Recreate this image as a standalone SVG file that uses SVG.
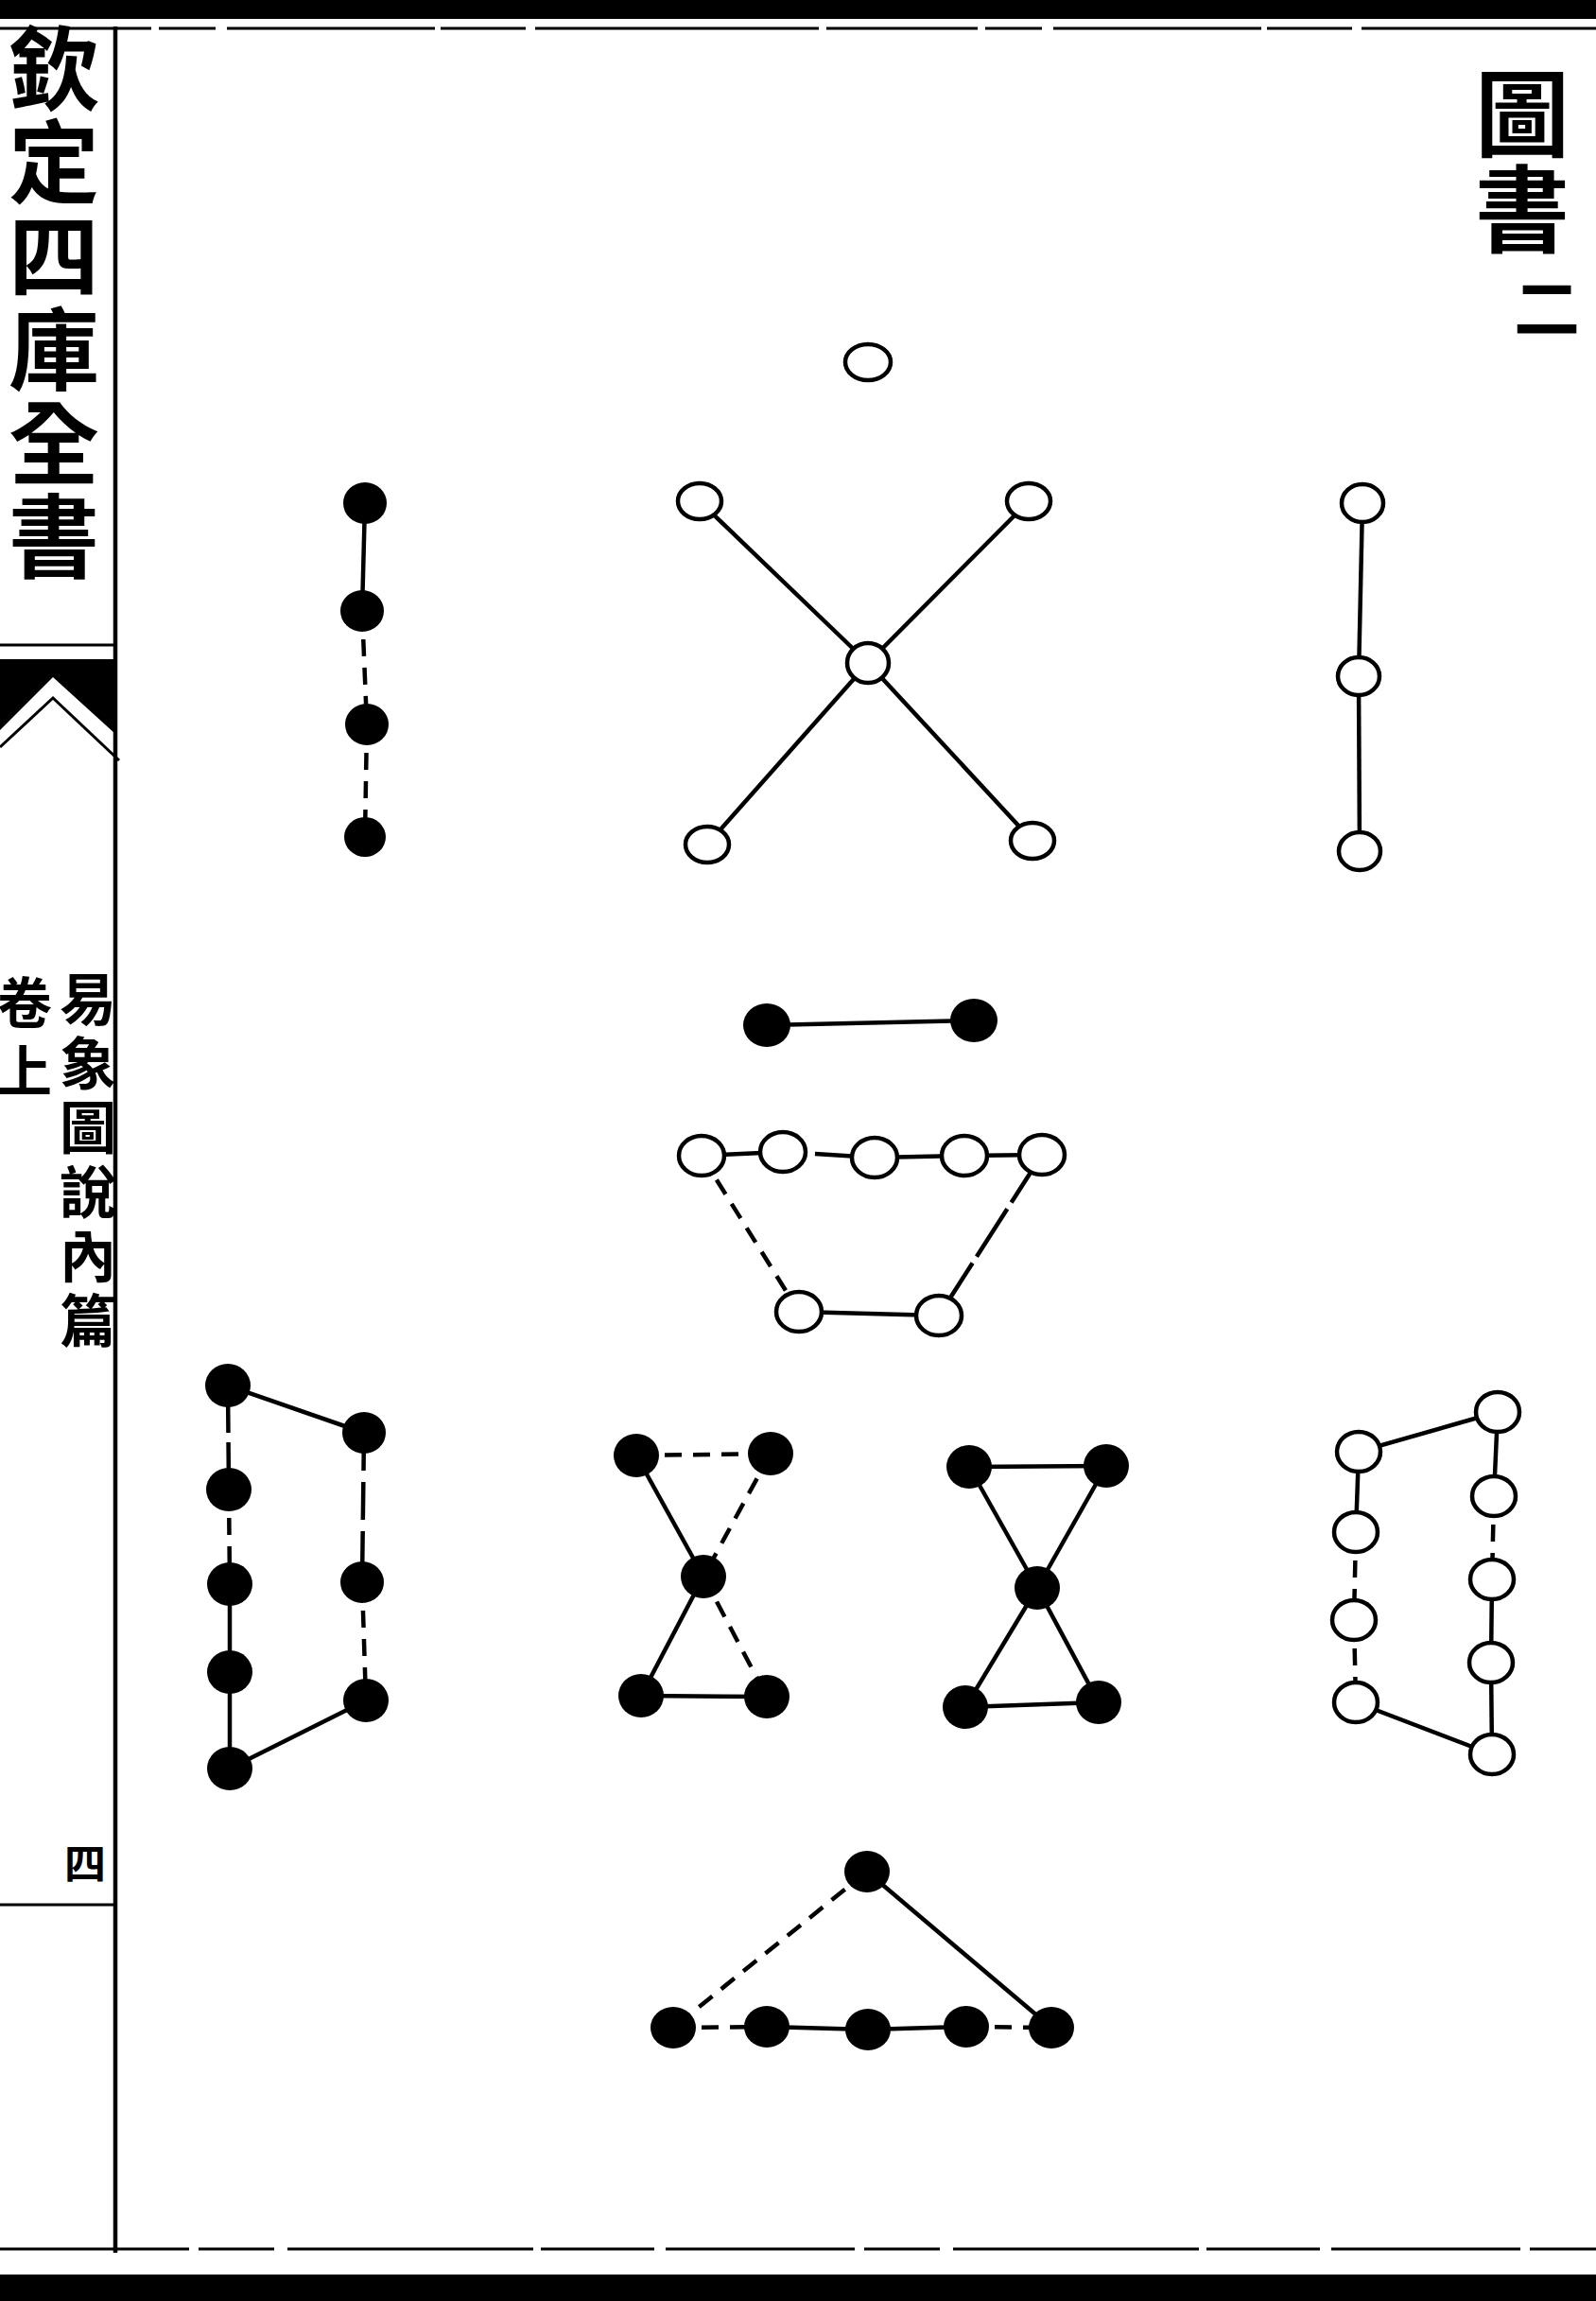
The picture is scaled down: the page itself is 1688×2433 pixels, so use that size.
<svg xmlns="http://www.w3.org/2000/svg" width="1688" height="2433" viewBox="0 0 1688 2433">
<style>
.w{fill:#fff;stroke:#000;stroke-width:4.5}
.b{fill:#000}
.c{stroke:#000;stroke-width:4.5;fill:none;stroke-linecap:butt}
.d{stroke-dasharray:18 12}
.f{stroke:#000;fill:none}
.t{font-family:"Noto Sans CJK TC","Noto Sans CJK SC",sans-serif;font-weight:700;fill:#000}
.v{writing-mode:vertical-rl;text-orientation:upright}
</style>
<rect width="1688" height="2433" fill="#fff"/>
<g id="frame">
<rect x="0" y="0" width="1688" height="20" fill="#000"/>
<line class="f" x1="0" y1="30" x2="1688" y2="30" stroke-width="3" stroke-dasharray="160 8 60 12 220 6 90 10 300 8"/>
<line class="f" x1="122" y1="28" x2="122" y2="2382" stroke-width="4.5"/>
<line class="f" x1="0" y1="682" x2="122" y2="682" stroke-width="3"/>
<path d="M0,697 L122,697 L122,776 L56,716 L0,772 Z" fill="#000"/>
<polyline class="f" points="0,790 56,738 126,804" stroke-width="3"/>
<line class="f" x1="0" y1="2014" x2="122" y2="2014" stroke-width="3"/>
<line class="f" x1="0" y1="2378" x2="1688" y2="2378" stroke-width="3" stroke-dasharray="200 10 80 14 260 8 120 12"/>
<rect x="0" y="2405" width="1688" height="28" fill="#000"/>
</g>
<g id="labels">
<text class="t v" font-size="96" x="57" y="24" letter-spacing="3">欽定四庫全書</text>
<text class="t v" font-size="60" x="93" y="1026" letter-spacing="8">易象圖說內篇</text>
<text class="t v" font-size="58" x="26" y="1031" letter-spacing="14">卷上</text>
<text class="t" font-size="44" x="90" y="1987" text-anchor="middle">四</text>
<text class="t v" font-size="100" x="1610" y="70" letter-spacing="1">圖書</text>
<text class="t" font-size="70" x="1636" y="352" text-anchor="middle">二</text>
</g>
<g id="connectors">
<line class="c" x1="740" y1="530" x2="918" y2="701"/>
<line class="c" x1="1088" y1="530" x2="918" y2="701"/>
<line class="c" x1="748" y1="893" x2="918" y2="701"/>
<line class="c" x1="1092" y1="889" x2="918" y2="701"/>
<line class="c" x1="386" y1="532" x2="383" y2="646"/>
<line class="c d" x1="383" y1="646" x2="388" y2="766"/>
<line class="c d" x1="388" y1="766" x2="386" y2="885"/>
<line class="c" x1="1441" y1="532" x2="1437" y2="715"/>
<line class="c" x1="1437" y1="715" x2="1438" y2="900"/>
<line class="c" x1="811" y1="1084" x2="1030" y2="1079"/>
<line class="c" x1="742" y1="1222" x2="828" y2="1218"/>
<line class="c" x1="828" y1="1218" x2="925" y2="1224" stroke-dasharray="0 34 200"/>
<line class="c" x1="925" y1="1224" x2="1020" y2="1222"/>
<line class="c" x1="1020" y1="1222" x2="1102" y2="1221"/>
<line class="c d" x1="742" y1="1222" x2="845" y2="1387"/>
<line class="c" x1="1102" y1="1221" x2="993" y2="1391" stroke-dasharray="60 8"/>
<line class="c" x1="845" y1="1387" x2="993" y2="1391"/>
<line class="c" x1="241" y1="1465" x2="385" y2="1515"/>
<line class="c" x1="241" y1="1465" x2="242" y2="1575" stroke-dasharray="50 10"/>
<line class="c d" x1="242" y1="1575" x2="243" y2="1675"/>
<line class="c" x1="243" y1="1675" x2="243" y2="1768"/>
<line class="c" x1="243" y1="1768" x2="243" y2="1870"/>
<line class="c" x1="385" y1="1515" x2="383" y2="1673" stroke-dasharray="40 12"/>
<line class="c d" x1="383" y1="1673" x2="387" y2="1798"/>
<line class="c" x1="243" y1="1870" x2="387" y2="1798"/>
<line class="c" x1="1437" y1="1535" x2="1584" y2="1493"/>
<line class="c" x1="1437" y1="1535" x2="1434" y2="1620"/>
<line class="c d" x1="1434" y1="1620" x2="1432" y2="1713"/>
<line class="c d" x1="1432" y1="1713" x2="1434" y2="1800"/>
<line class="c" x1="1584" y1="1493" x2="1580" y2="1582"/>
<line class="c d" x1="1580" y1="1582" x2="1578" y2="1670"/>
<line class="c" x1="1578" y1="1670" x2="1577" y2="1758"/>
<line class="c" x1="1577" y1="1758" x2="1578" y2="1855"/>
<line class="c" x1="1434" y1="1800" x2="1578" y2="1855"/>
<line class="c d" x1="673" y1="1539" x2="815" y2="1537"/>
<line class="c" x1="673" y1="1539" x2="744" y2="1667"/>
<line class="c d" x1="815" y1="1537" x2="744" y2="1667"/>
<line class="c" x1="744" y1="1667" x2="678" y2="1793"/>
<line class="c d" x1="744" y1="1667" x2="811" y2="1794"/>
<line class="c" x1="678" y1="1793" x2="811" y2="1794"/>
<line class="c" x1="1025" y1="1551" x2="1170" y2="1550"/>
<line class="c" x1="1025" y1="1551" x2="1097" y2="1679"/>
<line class="c" x1="1170" y1="1550" x2="1097" y2="1679"/>
<line class="c" x1="1097" y1="1679" x2="1021" y2="1805"/>
<line class="c" x1="1097" y1="1679" x2="1162" y2="1800"/>
<line class="c" x1="1021" y1="1805" x2="1162" y2="1800"/>
<line class="c d" x1="917" y1="1979" x2="712" y2="2144"/>
<line class="c" x1="917" y1="1979" x2="1112" y2="2144"/>
<line class="c d" x1="712" y1="2144" x2="811" y2="2143"/>
<line class="c" x1="811" y1="2143" x2="918" y2="2146"/>
<line class="c" x1="918" y1="2146" x2="1022" y2="2143"/>
<line class="c d" x1="1022" y1="2143" x2="1112" y2="2144"/>
</g>
<g id="n-top"><ellipse class="w" cx="918" cy="383" rx="24" ry="19"/></g>
<g id="n-x1"><ellipse class="w" cx="740" cy="530" rx="23" ry="19"/></g>
<g id="n-x2"><ellipse class="w" cx="1088" cy="530" rx="23" ry="19"/></g>
<g id="n-xc"><ellipse class="w" cx="918" cy="701" rx="22" ry="21"/></g>
<g id="n-x3"><ellipse class="w" cx="748" cy="893" rx="23" ry="19"/></g>
<g id="n-x4"><ellipse class="w" cx="1092" cy="889" rx="23" ry="19"/></g>
<g id="n-l1"><ellipse class="b" cx="386" cy="532" rx="23" ry="22"/></g>
<g id="n-l2"><ellipse class="b" cx="383" cy="646" rx="23" ry="22"/></g>
<g id="n-l3"><ellipse class="b" cx="388" cy="766" rx="23" ry="22"/></g>
<g id="n-l4"><ellipse class="b" cx="386" cy="885" rx="22" ry="21"/></g>
<g id="n-r1"><ellipse class="w" cx="1441" cy="532" rx="22" ry="20"/></g>
<g id="n-r2"><ellipse class="w" cx="1437" cy="715" rx="22" ry="20"/></g>
<g id="n-r3"><ellipse class="w" cx="1438" cy="900" rx="22" ry="20"/></g>
<g id="n-p1"><ellipse class="b" cx="811" cy="1084" rx="25" ry="23"/></g>
<g id="n-p2"><ellipse class="b" cx="1030" cy="1079" rx="25" ry="23"/></g>
<g id="n-a1"><ellipse class="w" cx="742" cy="1222" rx="24" ry="21"/></g>
<g id="n-a2"><ellipse class="w" cx="828" cy="1218" rx="24" ry="21"/></g>
<g id="n-a3"><ellipse class="w" cx="925" cy="1224" rx="24" ry="21"/></g>
<g id="n-a4"><ellipse class="w" cx="1020" cy="1222" rx="24" ry="21"/></g>
<g id="n-a5"><ellipse class="w" cx="1102" cy="1221" rx="24" ry="21"/></g>
<g id="n-b1"><ellipse class="w" cx="845" cy="1387" rx="24" ry="21"/></g>
<g id="n-b2"><ellipse class="w" cx="993" cy="1391" rx="24" ry="21"/></g>
<g id="n-m1"><ellipse class="b" cx="241" cy="1465" rx="24" ry="23"/></g>
<g id="n-m2"><ellipse class="b" cx="242" cy="1575" rx="24" ry="23"/></g>
<g id="n-m3"><ellipse class="b" cx="243" cy="1675" rx="24" ry="23"/></g>
<g id="n-m4"><ellipse class="b" cx="243" cy="1768" rx="24" ry="23"/></g>
<g id="n-m5"><ellipse class="b" cx="243" cy="1870" rx="24" ry="23"/></g>
<g id="n-n1"><ellipse class="b" cx="385" cy="1515" rx="23" ry="22"/></g>
<g id="n-n2"><ellipse class="b" cx="383" cy="1673" rx="23" ry="22"/></g>
<g id="n-n3"><ellipse class="b" cx="387" cy="1798" rx="24" ry="23"/></g>
<g id="n-q1"><ellipse class="w" cx="1437" cy="1535" rx="23" ry="21"/></g>
<g id="n-q2"><ellipse class="w" cx="1434" cy="1620" rx="23" ry="21"/></g>
<g id="n-q3"><ellipse class="w" cx="1432" cy="1713" rx="23" ry="21"/></g>
<g id="n-q4"><ellipse class="w" cx="1434" cy="1800" rx="23" ry="21"/></g>
<g id="n-s1"><ellipse class="w" cx="1584" cy="1493" rx="23" ry="21"/></g>
<g id="n-s2"><ellipse class="w" cx="1580" cy="1582" rx="23" ry="21"/></g>
<g id="n-s3"><ellipse class="w" cx="1578" cy="1670" rx="23" ry="21"/></g>
<g id="n-s4"><ellipse class="w" cx="1577" cy="1758" rx="23" ry="21"/></g>
<g id="n-s5"><ellipse class="w" cx="1578" cy="1855" rx="23" ry="21"/></g>
<g id="n-h1"><ellipse class="b" cx="673" cy="1539" rx="24" ry="23"/></g>
<g id="n-h2"><ellipse class="b" cx="815" cy="1537" rx="24" ry="23"/></g>
<g id="n-hc"><ellipse class="b" cx="744" cy="1667" rx="24" ry="23"/></g>
<g id="n-h3"><ellipse class="b" cx="678" cy="1793" rx="24" ry="23"/></g>
<g id="n-h4"><ellipse class="b" cx="811" cy="1794" rx="24" ry="23"/></g>
<g id="n-k1"><ellipse class="b" cx="1025" cy="1551" rx="24" ry="23"/></g>
<g id="n-k2"><ellipse class="b" cx="1170" cy="1550" rx="24" ry="23"/></g>
<g id="n-kc"><ellipse class="b" cx="1097" cy="1679" rx="24" ry="23"/></g>
<g id="n-k3"><ellipse class="b" cx="1021" cy="1805" rx="24" ry="23"/></g>
<g id="n-k4"><ellipse class="b" cx="1162" cy="1800" rx="24" ry="23"/></g>
<g id="n-g0"><ellipse class="b" cx="917" cy="1979" rx="24" ry="22"/></g>
<g id="n-g1"><ellipse class="b" cx="712" cy="2144" rx="24" ry="22"/></g>
<g id="n-g2"><ellipse class="b" cx="811" cy="2143" rx="24" ry="22"/></g>
<g id="n-g3"><ellipse class="b" cx="918" cy="2146" rx="24" ry="22"/></g>
<g id="n-g4"><ellipse class="b" cx="1022" cy="2143" rx="24" ry="22"/></g>
<g id="n-g5"><ellipse class="b" cx="1112" cy="2144" rx="24" ry="22"/></g>
</svg>
